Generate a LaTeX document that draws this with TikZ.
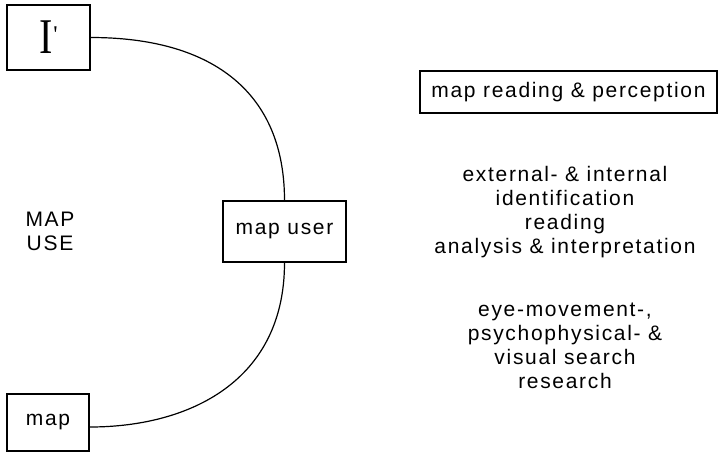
\documentclass[tikz,border=0pt]{standalone}
\usepackage{fontspec}
\setmainfont{Liberation Sans}[LetterSpace=8]
\newfontfamily\serifI{Liberation Serif}
\begin{document}
\begin{tikzpicture}[x=1pt,y=-1pt,
  box/.style={draw, line width=1.6pt, inner sep=0pt, font=\fontsize{21}{24}\selectfont},
  label/.style={align=center, font=\fontsize{21}{24}\selectfont},
  link/.style={line width=1.2pt}]
  \useasboundingbox (0,0) rectangle (718,456);

  % boxes
  \node[box, minimum width=83pt, minimum height=65pt] (I) at (48.5,37.5)
    {\serifI\fontsize{50}{50}\selectfont\scalebox{0.8}[1]{I}\hspace{1pt}\raisebox{11pt}{\fontsize{24}{24}\selectfont\textquotesingle}};
  \node[box, minimum width=123pt, minimum height=61pt] (user) at (284.5,231.5) {map user};
  \node[box, minimum width=82pt, minimum height=57pt] (map) at (48,422.5) {map};
  \node[box, minimum width=297pt, minimum height=42pt] (mrp) at (568.5,92) {map reading \& perception};

  % connecting arcs
  \draw[link] (I.east) .. controls +(125,0) and +(0,-105) .. (user.north);
  \draw[link] (user.south) .. controls +(0,118) and +(100,0) .. ([yshift=-4.5pt]map.east);

  % labels
  \node[label] (mapuse) at (50,231) {MAP\\USE};
  \node[label] (tasks) at (565,212) {external- \& internal\\identification\\reading\\analysis \& interpretation};
  \node[label] (research) at (565,346) {eye-movement-,\\psychophysical- \&\\visual search\\research};
\end{tikzpicture}
\end{document}
